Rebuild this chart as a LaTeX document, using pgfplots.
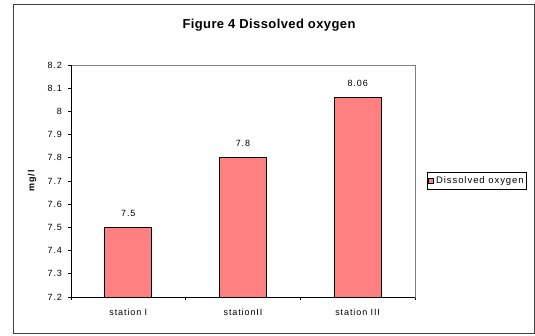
\documentclass[border=0pt]{standalone}
\usepackage{pgfplots}
\pgfplotsset{compat=1.18}
\usepackage{fontspec}
\setmainfont{Liberation Sans}
\newfontfamily\widesans[LetterSpace=10]{Liberation Sans}
\newfontfamily\titlesans[LetterSpace=3]{Liberation Sans}
\definecolor{barred}{HTML}{FF8080}
\definecolor{framegray}{HTML}{808080}

\pgfplotstableread{
x value
0 7.5
1 7.8
2 8.06
}\dissolved

\begin{document}
\begin{tikzpicture}[x=1pt,y=1pt]
  % canvas and outer chart frame
  \useasboundingbox (0,0) rectangle (535,336);
  \draw[black!75, line width=1pt] (13,2) rectangle (534.5,331);
  \node[font=\titlesans\bfseries\fontsize{13}{15}\selectfont] at (269,311) {Figure 4 Dissolved oxygen};
  \begin{axis}[
    at={(71pt,39pt)}, anchor=south west,
    scale only axis, width=344pt, height=232pt,
    ybar, bar width=47pt,
    xmin=-0.5, xmax=2.5, ymin=7.2, ymax=8.2,
    ytick={7.2,7.3,...,8.25},
    xtick={0,1,2},
    xticklabels={station I, stationII, station III},
    minor xtick={-0.5,0.5,1.5,2.5},
    major x tick style={draw=none},
    minor tick length=3pt, major tick length=3pt,
    tick align=outside, xtick pos=bottom, ytick pos=left,
    tick style={black, line width=0.6pt},
    /pgf/number format/assume math mode=true,
    ticklabel style={font=\widesans\fontsize{9}{10}\selectfont},
    yticklabel style={xshift=-2.5pt},
    xticklabel style={yshift=-5pt},
    axis line style={framegray, line width=0.6pt},
    ylabel={mg/l},
    ylabel style={at={(axis description cs:-0.113,0.5)}, anchor=center,
      font=\widesans\bfseries\fontsize{9}{10}\selectfont},
    nodes near coords,
    every node near coord/.append style={font=\widesans\fontsize{9}{10}\selectfont, yshift=7pt,
      /pgf/number format/precision=2},
    legend style={at={(1,0.5)}, anchor=west, xshift=12pt, draw=black, line width=0.8pt,
      font=\widesans\fontsize{9.5}{11}\selectfont, inner xsep=1pt, inner ysep=2.5pt,
      /tikz/every even column/.append style={column sep=0pt}},
    legend image code/.code={\draw[#1, line width=0.6pt] (0pt,-2.5pt) rectangle (5pt,2.5pt);},
    after end axis/.code={
      \draw[black, line width=0.8pt] (rel axis cs:0,1) -- (rel axis cs:0,0) -- (rel axis cs:1,0);
    },
  ]
    \addplot[fill=barred, draw=black, line width=0.8pt] table[x=x, y=value] {\dissolved};
    \addlegendentry{Dissolved oxygen}
  \end{axis}
\end{tikzpicture}
\end{document}
